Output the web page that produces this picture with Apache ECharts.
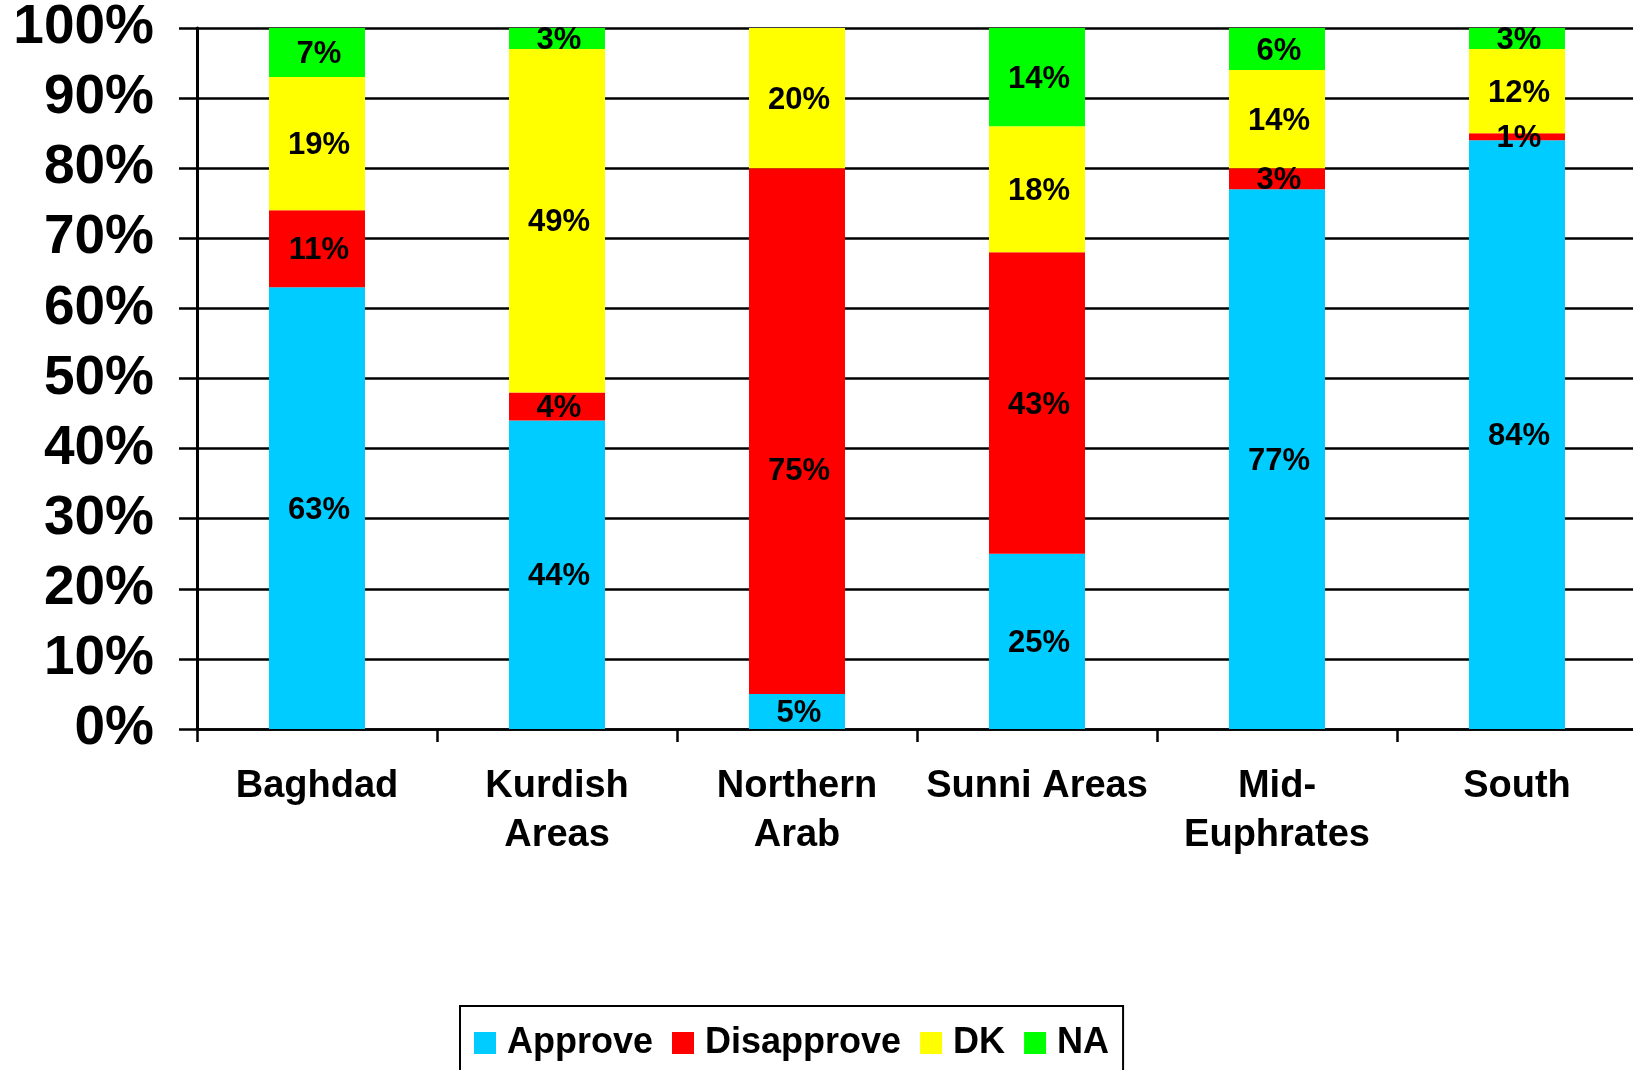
<!DOCTYPE html>
<html>
<head>
<meta charset="utf-8">
<script src="https://cdn.jsdelivr.net/npm/echarts@6/dist/echarts.min.js"></script>
<style>
  html, body { margin: 0; padding: 0; background: #fff; }
  #chart { width: 1633px; height: 1070px; }
</style>
</head>
<body>
<div id="chart"></div>
<script>
// data
var regions = ["Baghdad", "Kurdish\nAreas", "Northern\nArab", "Sunni Areas", "Mid-\nEuphrates", "South"];
var approve = [63, 44, 5, 25, 77, 84];
var disapprove = [11, 4, 75, 43, 3, 1];
var dk = [19, 49, 20, 18, 14, 12];
var na = [7, 3, 0, 14, 6, 3];

var chart = echarts.init(document.getElementById("chart"));
var font = "'Liberation Sans', Arial, Helvetica, sans-serif";

function makeSeries(name, data, color) {
  return {
    name: name,
    type: "bar",
    stack: "all",
    barWidth: "40%",
    data: data.slice(),
    itemStyle: { color: color },
    label: {
      show: true,
      position: "inside",
      color: "#000",
      fontFamily: font,
      fontWeight: "bold",
      fontSize: 31,
      offset: [2, 2],
      formatter: function (p) {
        return p.value ? p.value + "%" : "";
      }
    },
    emphasis: { disabled: true }
  };
}

var disSeries = makeSeries("Disapprove", disapprove, "#ff0000");
// the 75% label sits lower in the original
disSeries.data[2] = { value: disapprove[2], label: { offset: [2, 40] } };

var option = {
  backgroundColor: "#fff",
  animation: false,
  grid: {
    left: 197,
    top: 28,
    width: 1440,
    height: 701,
    containLabel: false,
    outerBoundsMode: "none"
  },
  legend: {
    left: 460,
    top: 1006,
    padding: [19, 14, 40, 14],
    borderColor: "#000",
    borderWidth: 2,
    itemWidth: 22,
    itemHeight: 22,
    itemGap: 19,
    icon: "rect",
    textStyle: {
      fontFamily: font,
      fontWeight: "bold",
      fontSize: 36,
      color: "#000",
      padding: [0, 0, 0, 6]
    }
  },
  xAxis: {
    type: "category",
    data: regions,
    axisLine: { lineStyle: { color: "#000", width: 2.5 } },
    axisTick: { show: true, length: 13, lineStyle: { color: "#000", width: 2.5 } },
    axisLabel: {
      interval: 0,
      margin: 33,
      color: "#000",
      fontFamily: font,
      fontWeight: "bold",
      fontSize: 38,
      lineHeight: 49
    }
  },
  yAxis: {
    type: "value",
    min: 0,
    max: 100,
    interval: 10,
    axisLine: { show: true, lineStyle: { color: "#000", width: 3 } },
    axisTick: { show: true, length: 18, lineStyle: { color: "#000", width: 2.5 } },
    splitLine: { show: true, lineStyle: { color: "#000", width: 2.5 } },
    axisLabel: {
      margin: 43,
      color: "#000",
      fontFamily: font,
      fontWeight: "bold",
      fontSize: 55,
      padding: [8, 0, 0, 0],
      formatter: "{value}%"
    }
  },
  series: [
    makeSeries("Approve", approve, "#00ccff"),
    disSeries,
    makeSeries("DK", dk, "#ffff00"),
    makeSeries("NA", na, "#00ff00")
  ]
};

chart.setOption(option);
</script>
</body>
</html>
